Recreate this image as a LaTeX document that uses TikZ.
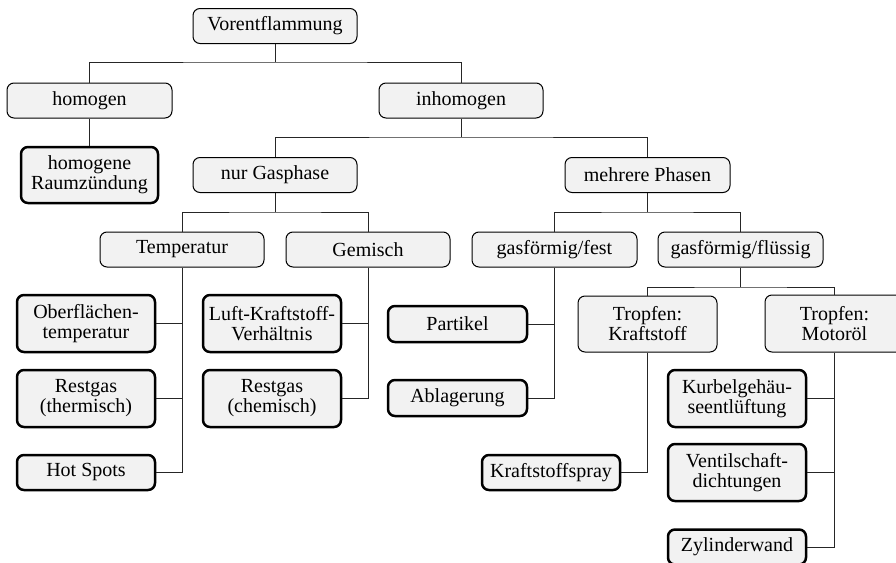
\documentclass[tikz,border=0pt]{standalone}
\usepackage{fontspec}
\setmainfont{Liberation Serif}
\begin{document}
\begin{tikzpicture}[x=1pt,y=-1pt,
  every node/.style={font=\fontsize{20}{20}\selectfont},
  cat/.style={draw=black, fill=black!5, rounded corners=7pt, line width=1pt,
    align=center, inner sep=2pt, minimum height=35pt},
  leaf/.style={cat, line width=2.5pt},
  link/.style={draw=black!85, line width=1pt}]
\clip (0,0) rectangle (896,562);
\fill[white] (0,0) rectangle (896,562);

% upper levels
\node[cat, minimum width=164pt] (vor) at (275,26) {Vorentflammung};
\node[cat, minimum width=165pt] (hom) at (89.5,100.5) {homogen};
\node[cat, minimum width=164pt] (inh) at (461,100.5) {inhomogen};
\node[leaf, minimum width=137pt, minimum height=56pt] (hr) at (89.5,175) {homogene\\Raumzündung};
\node[cat, minimum width=164pt] (gas) at (275,175) {nur Gasphase};
\node[cat, minimum width=165pt] (meh) at (647.5,175) {mehrere Phasen};
\node[cat, minimum width=164pt] (temp) at (182,249.5) {Temperatur};
\node[cat, minimum width=164pt] (gem) at (368,249.5) {Gemisch};
\node[cat, minimum width=165pt] (gf) at (554.5,249.5) {gasförmig/fest};
\node[cat, minimum width=165pt] (gfl) at (740.5,249.5) {gasförmig/flüssig};

% causes
\node[leaf, minimum width=138pt, minimum height=57pt] (ober) at (86,323.5) {Oberflächen-\\temperatur};
\node[leaf, minimum width=138pt, minimum height=57pt] (rth) at (86,398.5) {Restgas\\(thermisch)};
\node[leaf, minimum width=138pt] (hot) at (86,472.5) {Hot Spots};
\node[leaf, minimum width=138pt, minimum height=57pt] (luft) at (272,323.5) {Luft-Kraftstoff-\\Verhältnis};
\node[leaf, minimum width=138pt, minimum height=57pt] (rch) at (272,398.5) {Restgas\\(chemisch)};
\node[leaf, minimum width=139pt, minimum height=36pt] (part) at (457.5,324) {Partikel};
\node[leaf, minimum width=139pt, minimum height=36pt] (abl) at (457.5,398) {Ablagerung};
\node[cat, minimum width=139pt, minimum height=56pt] (tk) at (647.5,324) {Tropfen:\\Kraftstoff};
\node[cat, minimum width=139pt, minimum height=57pt] (tm) at (834.5,323.5) {Tropfen:\\Motoröl};
\node[leaf, minimum width=138pt] (ks) at (551,472.5) {Kraftstoffspray};
\node[leaf, minimum width=138pt, minimum height=57pt] (kg) at (737,398.5) {Kurbelgehäu-\\seentlüftung};
\node[leaf, minimum width=138pt, minimum height=57pt] (vs) at (737,472.5) {Ventilschaft-\\dichtungen};
\node[leaf, minimum width=138pt] (zy) at (737,547) {Zylinderwand};

% branch points
\coordinate (j1) at (275,62);
\coordinate (j2) at (461,137);
\coordinate (j3) at (275,212);
\coordinate (j4) at (647.5,212);
\coordinate (j5) at (740.5,287);

% tree connectors
\path[link] (vor.south) -- (j1);
\path[link] (hom.north) |- (j1) -| (inh.north);
\path[link] (hom.south) -- (hr.north);
\path[link] (inh.south) -- (j2);
\path[link] (gas.north) |- (j2) -| (meh.north);
\path[link] (gas.south) -- (j3);
\path[link] (temp.north) |- (j3) -| (gem.north);
\path[link] (meh.south) -- (j4);
\path[link] (gf.north) |- (j4) -| (gfl.north);
\path[link] (gfl.south) -- (j5);
\path[link] (tk.north) |- (j5) -| (tm.north);

\path[link] (temp.south) |- (hot.east);
\path[link] (ober.east) -- (ober.east -| temp.south);
\path[link] (rth.east) -- (rth.east -| temp.south);
\path[link] (gem.south) |- (rch.east);
\path[link] (luft.east) -- (luft.east -| gem.south);
\path[link] (gf.south) |- (abl.east);
\path[link] (part.east) -- (part.east -| gf.south);
\path[link] (tk.south) |- (ks.east);
\path[link] (tm.south) |- (zy.east);
\path[link] (kg.east) -- (kg.east -| tm.south);
\path[link] (vs.east) -- (vs.east -| tm.south);
\end{tikzpicture}
\end{document}
